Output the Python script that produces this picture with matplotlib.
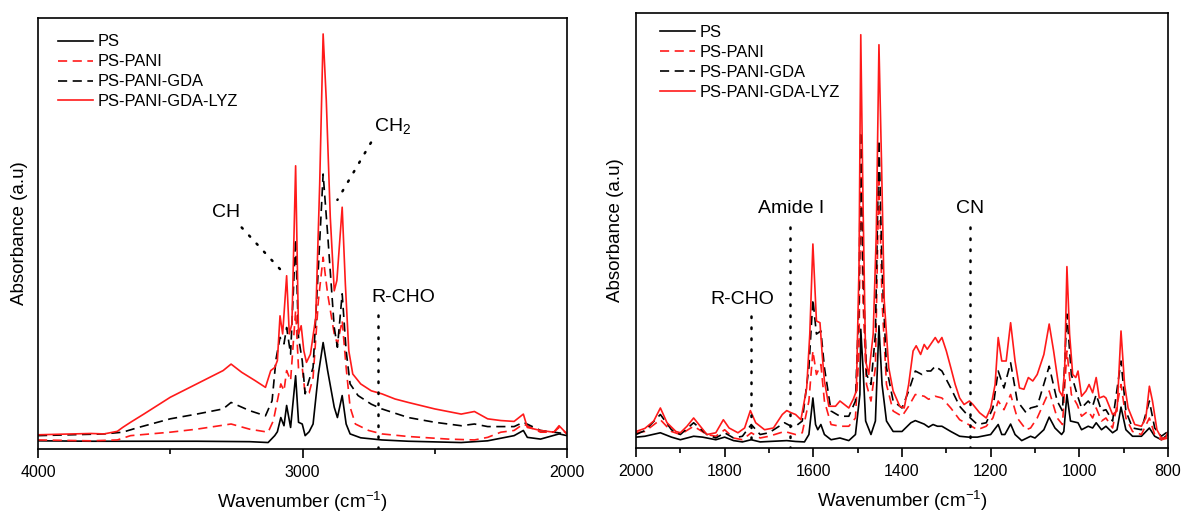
import numpy as np
import matplotlib
matplotlib.use("Agg")
import matplotlib.pyplot as plt
from matplotlib.ticker import MultipleLocator

plt.rcParams['font.family'] = ['Liberation Sans', 'DejaVu Sans']
plt.rcParams['mathtext.fontset'] = 'custom'
plt.rcParams['mathtext.rm'] = 'Liberation Sans'
plt.rcParams['mathtext.it'] = 'Liberation Sans'

labels = ['PS', 'PS-PANI', 'PS-PANI-GDA', 'PS-PANI-GDA-LYZ']

# ---- left panel (4000-2000 cm-1), absorbance in a.u. ----
left_ps = [(4000, 0.019), (3800, 0.018), (3600, 0.018), (3400, 0.018), (3200, 0.017), (3130, 0.015),
           (3105, 0.031), (3095, 0.040), (3082, 0.073), (3070, 0.054), (3060, 0.101), (3045, 0.050),
           (3026, 0.170), (3015, 0.062), (3001, 0.058), (2990, 0.031), (2975, 0.040), (2960, 0.058),
           (2940, 0.174), (2922, 0.247), (2905, 0.182), (2880, 0.097), (2868, 0.073), (2850, 0.124),
           (2835, 0.058), (2820, 0.035), (2780, 0.026), (2700, 0.021), (2600, 0.018), (2400, 0.015),
           (2300, 0.019), (2200, 0.031), (2165, 0.043), (2150, 0.027), (2100, 0.023), (2030, 0.035),
           (2000, 0.031)]
left_pani = [(4000, 0.021), (3800, 0.019), (3700, 0.021), (3650, 0.031), (3500, 0.039), (3400, 0.046),
             (3270, 0.058), (3200, 0.046), (3130, 0.039), (3110, 0.066), (3095, 0.112), (3082, 0.151),
             (3070, 0.135), (3060, 0.182), (3045, 0.159), (3026, 0.321), (3015, 0.186), (3001, 0.189),
             (2990, 0.128), (2975, 0.130), (2960, 0.166), (2940, 0.344), (2922, 0.445), (2905, 0.360),
             (2880, 0.267), (2868, 0.244), (2850, 0.298), (2835, 0.189), (2820, 0.097), (2800, 0.058),
             (2750, 0.043), (2700, 0.035), (2600, 0.029), (2450, 0.023), (2350, 0.021), (2300, 0.027),
             (2250, 0.039), (2200, 0.043), (2165, 0.058), (2100, 0.039), (2050, 0.039), (2030, 0.050),
             (2000, 0.035)]
left_gda = [(4000, 0.031), (3750, 0.035), (3680, 0.039), (3620, 0.050), (3500, 0.070), (3400, 0.081),
            (3300, 0.093), (3270, 0.108), (3200, 0.089), (3140, 0.077), (3115, 0.112), (3100, 0.209),
            (3085, 0.259), (3070, 0.244), (3060, 0.282), (3045, 0.220), (3026, 0.487), (3015, 0.259),
            (3001, 0.205), (2990, 0.128), (2975, 0.160), (2960, 0.189), (2940, 0.421), (2922, 0.638),
            (2905, 0.499), (2880, 0.282), (2868, 0.236), (2850, 0.360), (2835, 0.228), (2820, 0.151),
            (2790, 0.124), (2740, 0.104), (2700, 0.093), (2600, 0.073), (2500, 0.062), (2400, 0.054),
            (2350, 0.058), (2300, 0.052), (2200, 0.052), (2165, 0.062), (2100, 0.043), (2000, 0.035)]
left_lyz = [(4000, 0.033), (3800, 0.036), (3750, 0.035), (3700, 0.041), (3680, 0.050), (3650, 0.062),
            (3600, 0.081), (3500, 0.120), (3400, 0.151), (3300, 0.182), (3270, 0.197), (3230, 0.178),
            (3180, 0.159), (3140, 0.143), (3120, 0.182), (3105, 0.189), (3095, 0.205), (3085, 0.309),
            (3075, 0.267), (3060, 0.402), (3050, 0.267), (3040, 0.290), (3026, 0.657), (3015, 0.267),
            (3005, 0.286), (2995, 0.228), (2985, 0.201), (2970, 0.220), (2950, 0.305), (2935, 0.615),
            (2922, 0.963), (2910, 0.808), (2895, 0.538), (2880, 0.367), (2870, 0.391), (2850, 0.561),
            (2838, 0.383), (2825, 0.228), (2810, 0.174), (2780, 0.151), (2740, 0.135), (2700, 0.128),
            (2650, 0.116), (2600, 0.108), (2500, 0.093), (2400, 0.081), (2350, 0.087), (2300, 0.070),
            (2250, 0.066), (2200, 0.064), (2165, 0.081), (2150, 0.050), (2100, 0.043), (2050, 0.039),
            (2030, 0.054), (2000, 0.035)]

# ---- right panel (2000-800 cm-1) ----
right_ps = [(2000, 0.025), (1980, 0.027), (1945, 0.035), (1920, 0.025), (1900, 0.019), (1870, 0.027),
            (1850, 0.025), (1820, 0.019), (1800, 0.025), (1780, 0.017), (1760, 0.014), (1740, 0.019),
            (1720, 0.014), (1700, 0.015), (1660, 0.017), (1640, 0.015), (1620, 0.014), (1610, 0.031),
            (1601, 0.115), (1595, 0.054), (1590, 0.042), (1583, 0.054), (1575, 0.031), (1560, 0.019),
            (1540, 0.023), (1520, 0.017), (1505, 0.031), (1495, 0.123), (1493, 0.273), (1488, 0.185),
            (1482, 0.062), (1470, 0.031), (1460, 0.062), (1452, 0.281), (1445, 0.146), (1435, 0.062),
            (1420, 0.038), (1400, 0.038), (1380, 0.058), (1370, 0.063), (1350, 0.055), (1340, 0.048),
            (1330, 0.054), (1320, 0.050), (1310, 0.050), (1290, 0.038), (1270, 0.027), (1250, 0.025),
            (1230, 0.025), (1200, 0.031), (1183, 0.054), (1175, 0.031), (1168, 0.031), (1155, 0.055),
            (1145, 0.031), (1130, 0.017), (1110, 0.027), (1100, 0.023), (1080, 0.042), (1068, 0.071),
            (1055, 0.046), (1040, 0.031), (1035, 0.038), (1028, 0.123), (1020, 0.062), (1003, 0.058),
            (995, 0.042), (980, 0.050), (970, 0.046), (962, 0.058), (950, 0.042), (940, 0.050),
            (925, 0.035), (915, 0.042), (906, 0.094), (895, 0.042), (880, 0.027), (860, 0.027),
            (842, 0.046), (830, 0.027), (815, 0.019), (800, 0.031)]
right_pani = [(2000, 0.035), (1980, 0.038), (1945, 0.065), (1920, 0.038), (1900, 0.031), (1870, 0.050),
              (1840, 0.031), (1820, 0.027), (1800, 0.042), (1780, 0.023), (1760, 0.019), (1740, 0.035),
              (1720, 0.023), (1700, 0.027), (1665, 0.038), (1640, 0.031), (1625, 0.035), (1610, 0.108),
              (1601, 0.223), (1593, 0.169), (1583, 0.192), (1575, 0.108), (1560, 0.054), (1540, 0.050),
              (1520, 0.050), (1505, 0.069), (1497, 0.223), (1493, 0.646), (1488, 0.338), (1480, 0.146),
              (1470, 0.108), (1460, 0.185), (1452, 0.631), (1445, 0.338), (1435, 0.146), (1420, 0.085),
              (1400, 0.073), (1385, 0.096), (1370, 0.123), (1350, 0.119), (1340, 0.112), (1325, 0.119),
              (1310, 0.115), (1290, 0.092), (1270, 0.065), (1250, 0.054), (1230, 0.042), (1210, 0.050),
              (1195, 0.069), (1183, 0.108), (1170, 0.088), (1155, 0.123), (1140, 0.069), (1120, 0.042),
              (1110, 0.046), (1095, 0.069), (1068, 0.131), (1050, 0.069), (1038, 0.054), (1028, 0.223),
              (1018, 0.123), (1005, 0.100), (995, 0.073), (980, 0.085), (970, 0.069), (962, 0.092),
              (950, 0.062), (940, 0.069), (925, 0.046), (906, 0.146), (895, 0.069), (880, 0.038),
              (860, 0.031), (842, 0.069), (830, 0.031), (815, 0.019), (800, 0.023)]
right_gda = [(2000, 0.031), (1980, 0.040), (1945, 0.077), (1920, 0.042), (1900, 0.031), (1870, 0.058),
             (1840, 0.031), (1820, 0.023), (1800, 0.035), (1780, 0.023), (1760, 0.027), (1740, 0.054),
             (1720, 0.031), (1700, 0.035), (1665, 0.058), (1650, 0.050), (1640, 0.050), (1625, 0.062),
             (1610, 0.185), (1601, 0.342), (1593, 0.262), (1583, 0.269), (1575, 0.185), (1560, 0.085),
             (1540, 0.073), (1520, 0.073), (1505, 0.108), (1497, 0.338), (1493, 0.727), (1488, 0.415),
             (1480, 0.169), (1470, 0.146), (1460, 0.262), (1452, 0.708), (1445, 0.415), (1435, 0.185),
             (1420, 0.108), (1400, 0.092), (1385, 0.131), (1370, 0.177), (1355, 0.169), (1345, 0.177),
             (1335, 0.177), (1325, 0.188), (1310, 0.177), (1290, 0.138), (1270, 0.096), (1250, 0.073),
             (1230, 0.054), (1210, 0.058), (1195, 0.092), (1183, 0.177), (1170, 0.138), (1155, 0.196),
             (1140, 0.108), (1120, 0.081), (1110, 0.092), (1095, 0.096), (1068, 0.188), (1050, 0.108),
             (1038, 0.085), (1028, 0.308), (1018, 0.169), (1005, 0.123), (995, 0.092), (980, 0.108),
             (970, 0.096), (962, 0.123), (950, 0.085), (940, 0.088), (925, 0.062), (906, 0.200),
             (895, 0.085), (880, 0.046), (860, 0.042), (842, 0.108), (830, 0.046), (815, 0.027),
             (800, 0.038)]
right_lyz = [(2000, 0.038), (1980, 0.045), (1960, 0.062), (1945, 0.092), (1930, 0.058), (1910, 0.038),
             (1900, 0.035), (1885, 0.050), (1870, 0.069), (1855, 0.050), (1840, 0.031), (1820, 0.035),
             (1803, 0.065), (1790, 0.046), (1770, 0.035), (1755, 0.046), (1742, 0.086), (1730, 0.058),
             (1710, 0.042), (1690, 0.046), (1670, 0.077), (1660, 0.086), (1650, 0.081), (1640, 0.077),
             (1628, 0.065), (1615, 0.138), (1608, 0.262), (1601, 0.469), (1593, 0.292), (1585, 0.288),
             (1580, 0.215), (1575, 0.154), (1565, 0.096), (1550, 0.096), (1540, 0.108), (1530, 0.100),
             (1520, 0.092), (1510, 0.112), (1503, 0.131), (1497, 0.415), (1493, 0.950), (1488, 0.569),
             (1482, 0.200), (1475, 0.169), (1465, 0.262), (1458, 0.492), (1452, 0.927), (1446, 0.646),
             (1440, 0.338), (1430, 0.185), (1420, 0.131), (1405, 0.096), (1395, 0.092), (1385, 0.146),
             (1375, 0.223), (1368, 0.235), (1358, 0.215), (1350, 0.238), (1343, 0.227), (1333, 0.242),
             (1325, 0.254), (1318, 0.242), (1310, 0.254), (1300, 0.223), (1290, 0.185), (1280, 0.146),
             (1270, 0.115), (1260, 0.100), (1248, 0.108), (1240, 0.100), (1225, 0.081), (1210, 0.069),
             (1200, 0.092), (1190, 0.146), (1183, 0.254), (1175, 0.200), (1165, 0.200), (1155, 0.288),
             (1145, 0.200), (1135, 0.138), (1125, 0.135), (1115, 0.162), (1105, 0.154), (1095, 0.169),
             (1080, 0.215), (1068, 0.285), (1058, 0.223), (1045, 0.131), (1038, 0.119), (1033, 0.185),
             (1028, 0.417), (1022, 0.262), (1015, 0.169), (1008, 0.162), (1003, 0.177), (995, 0.119),
             (985, 0.131), (978, 0.146), (970, 0.127), (962, 0.162), (955, 0.115), (945, 0.119),
             (940, 0.115), (925, 0.077), (915, 0.085), (906, 0.269), (898, 0.146), (890, 0.092),
             (875, 0.054), (860, 0.050), (850, 0.069), (842, 0.142), (835, 0.108), (825, 0.042),
             (815, 0.023), (805, 0.023), (800, 0.038)]

styles = [dict(color='black', ls='-'),
          dict(color='#ff1a1a', ls=(0, (5.5, 3.3))),
          dict(color='black', ls=(0, (5.5, 3.3))),
          dict(color='#ff1a1a', ls='-')]

fig = plt.figure(figsize=(11.82, 5.14), dpi=100)
ax1 = fig.add_axes([38 / 1182, 1 - 449 / 514, 529 / 1182, 431 / 514])
ax2 = fig.add_axes([636 / 1182, 1 - 448 / 514, 532 / 1182, 435 / 514])


def draw(ax, series):
    for s, st, lab in zip(series, styles, labels):
        x, y = zip(*s)
        ax.plot(x, y, lw=1.2, label=lab, **st)


draw(ax1, [left_ps, left_pani, left_gda, left_lyz])
draw(ax2, [right_ps, right_pani, right_gda, right_lyz])

ax1.set_xlim(4000, 2000)
ax1.xaxis.set_major_locator(MultipleLocator(1000))
ax1.xaxis.set_minor_locator(MultipleLocator(500))
ax2.set_xlim(2000, 800)
ax2.xaxis.set_major_locator(MultipleLocator(200))
ax2.xaxis.set_minor_locator(MultipleLocator(100))

for ax, ypad in ((ax1, 7), (ax2, 8.5)):
    ax.set_ylim(0, 1)
    ax.set_yticks([])
    for sp in ax.spines.values():
        sp.set_linewidth(1.2)
    ax.tick_params(axis='x', which='major', direction='out', length=6.5, width=1.2,
                   labelsize=11.5, pad=5)
    ax.tick_params(axis='x', which='minor', direction='out', length=3.5, width=1.2)
    ax.set_xlabel('Wavenumber (cm$^{-1}$)', fontsize=13.5, labelpad=7)
    ax.set_ylabel('Absorbance (a.u)', fontsize=13.5, labelpad=ypad)

leg_kw = dict(loc='upper left', frameon=False, fontsize=11.9, borderpad=0, borderaxespad=0,
              handlelength=2.1, handletextpad=0.3, labelspacing=0.3)
ax1.legend(bbox_to_anchor=(0.038, 0.962), **leg_kw)
ax2.legend(bbox_to_anchor=(0.045, 0.972), **leg_kw)

dot = dict(color='black', lw=1.8, ls=(0, (0.6, 3.8)), dash_capstyle='round')

# left annotations
ax1.plot([3230, 3074], [0.514, 0.41], **dot)
ax1.text(3288, 0.549, 'CH', fontsize=14, ha='center', va='center')
ax1.plot([2741, 2868], [0.711, 0.578], **dot)
ax1.text(2729, 0.75, 'CH$_2$', fontsize=14, ha='left', va='center')
ax1.plot([2716, 2716], [0.31, 0.0], **dot)
ax1.text(2738, 0.352, 'R-CHO', fontsize=14, ha='left', va='center')

# right annotations
ax2.plot([1740, 1740], [0.304, 0.0], **dot)
ax2.text(1761, 0.342, 'R-CHO', fontsize=14, ha='center', va='center')
ax2.plot([1653, 1653], [0.508, 0.0], **dot)
ax2.text(1649, 0.55, 'Amide I', fontsize=14, ha='center', va='center')
ax2.plot([1247, 1247], [0.508, 0.0], **dot)
ax2.text(1246, 0.55, 'CN', fontsize=14, ha='center', va='center')

fig.savefig('out.png', dpi=100)
